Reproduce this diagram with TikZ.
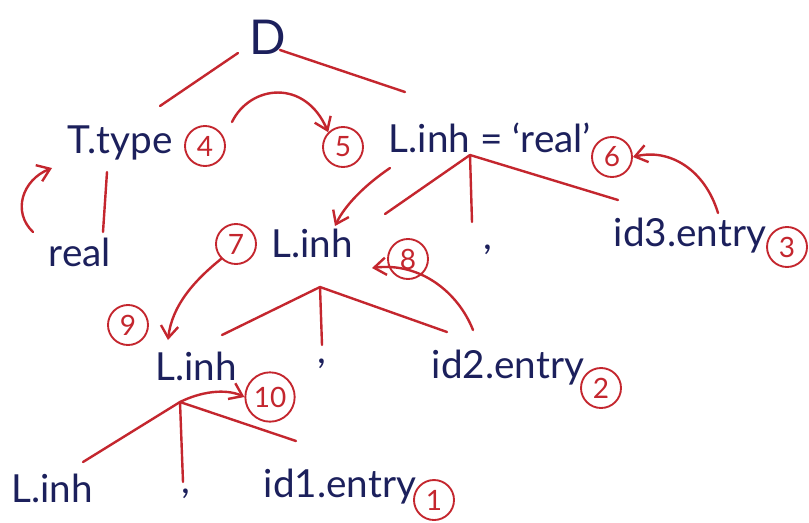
\documentclass[tikz,border=0pt]{standalone}
\usepackage{fontspec}
\setmainfont{Lato}
\usetikzlibrary{arrows.meta}
\definecolor{ink}{RGB}{28,32,92}
\definecolor{pen}{RGB}{196,38,46}
\tikzset{
  lbl/.style={text=ink, inner sep=0pt, font=\fontsize{29}{34}\selectfont},
  num/.style={draw=pen, line width=1.4pt, circle, text=pen, inner sep=0pt, minimum size=30pt, font=\fontsize{21}{24}\selectfont},
  edge/.style={draw=pen, line width=1.8pt, line cap=round},
  arr/.style={draw=pen, line width=1.8pt, line cap=round, -{Straight Barb[length=9pt,width=13pt,line width=1.8pt]}}
}
\begin{document}
\begin{tikzpicture}[x=0.75pt,y=-0.75pt]
\useasboundingbox[fill=white] (0,0) rectangle (809,522);
% labels
\node[lbl, font=\fontsize{36}{40}\selectfont] (D) at (268,37) {D};
\node[lbl] (ttype) at (120,143) {T.type};
\node[lbl] (real) at (80,252) {real};
\node[lbl] (linhA) at (490,138) {L.inh = ‘real’};
\node[lbl] (linhB) at (312,243) {L.inh};
\node[lbl] (commaB) at (488,250) {,};
\node[lbl] (id3) at (690,236) {id3.entry};
\node[lbl] (linhC) at (196,366) {L.inh};
\node[lbl] (commaC) at (322,364) {,};
\node[lbl] (id2) at (508,368) {id2.entry};
\node[lbl] (linhD) at (52,488) {L.inh};
\node[lbl] (commaD) at (186,494) {,};
\node[lbl] (id1) at (340,487) {id1.entry};
% numbered circles
\node[num] (n4) at (205,146) {4};
\node[num] (n5) at (343,147) {5};
\node[num] (n6) at (612,157) {6};
\node[num] (n3) at (787,247) {3};
\node[num] (n7) at (236,244) {7};
\node[num] (n8) at (408,259) {8};
\node[num] (n9) at (128,325) {9};
\node[num, minimum size=37pt] (n10) at (270,397) {10};
\node[num] (n2) at (601,388) {2};
\node[num] (n1) at (434,500) {1};
% junction coordinates
\coordinate (jD1) at (238,53);
\coordinate (jD2) at (280,50);
\coordinate (jA) at (470,155);
\coordinate (jB) at (320,287);
\coordinate (jC) at (180,402);
% tree edges
\draw[edge] (jD1) -- (160,106) coordinate (tT);
\draw[edge] (jD2) -- (405,92) coordinate (tA);
\draw[edge] (107,172) coordinate (tTb) -- (103,232) coordinate (tR);
\draw[edge] (jA) -- (385,214) coordinate (eA1);
\draw[edge] (jA) -- (472,222) coordinate (eA2);
\draw[edge] (jA) -- (618,200) coordinate (eA3);
\draw[edge] (jB) -- (222,335) coordinate (eB1);
\draw[edge] (jB) -- (322,345) coordinate (eB2);
\draw[edge] (jB) -- (447,332) coordinate (eB3);
\draw[edge] (jC) -- (83,462) coordinate (eC1);
\draw[edge] (jC) -- (183,482) coordinate (eC2);
\draw[edge] (jC) -- (296,441) coordinate (eC3);
% dependency arrows
\draw[arr] (33,232) .. controls (12,212) and (22,180) .. (52,168);
\draw[arr] (232,122) .. controls (250,85) and (305,78) .. (n5.north west);
\draw[arr] (390,168) .. controls (365,185) and (345,205) .. (335,226);
\draw[arr] (718,213) .. controls (705,170) and (670,148) .. (n6.east);
\draw[arr] (473,330) .. controls (458,292) and (420,262) .. (372,268);
\draw[arr] (n7.south west) .. controls (195,280) and (172,305) .. (168,340);
\draw[arr] (jC) .. controls (200,392) and (225,388) .. (n10.west);
\end{tikzpicture}
\end{document}
